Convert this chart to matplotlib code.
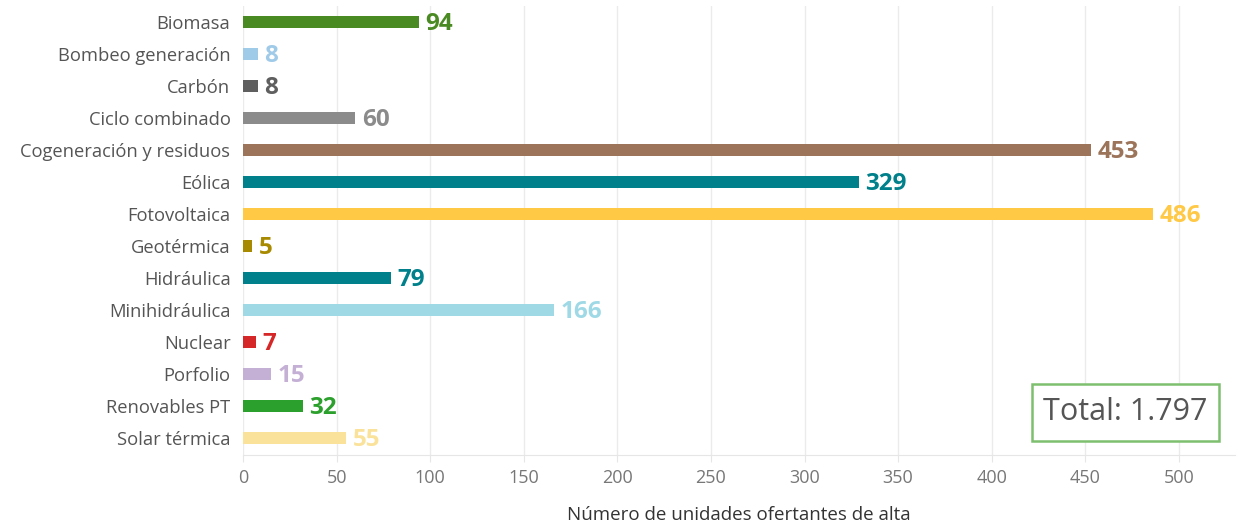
import matplotlib
matplotlib.use("Agg")
import matplotlib.pyplot as plt
from matplotlib.patches import Rectangle

categories = ["Biomasa", "Bombeo generación", "Carbón", "Ciclo combinado",
              "Cogeneración y residuos", "Eólica", "Fotovoltaica", "Geotérmica",
              "Hidráulica", "Minihidráulica", "Nuclear", "Porfolio",
              "Renovables PT", "Solar térmica"]
values = [94, 8, 8, 60, 453, 329, 486, 5, 79, 166, 7, 15, 32, 55]
colors = ["#4a8a22", "#a0cbe8", "#5f5f5f", "#8b8b8b", "#9c7459", "#00808a",
          "#ffc845", "#a88a00", "#00808a", "#9fd9e6", "#d62728", "#c5b0d5",
          "#2ca02c", "#fbe29b"]
xticks = [0, 50, 100, 150, 200, 250, 300, 350, 400, 450, 500]
xlabel = "Número de unidades ofertantes de alta"
total_text = "Total: 1.797"

plt.rcParams['font.family'] = ['Open Sans', 'DejaVu Sans']

fig = plt.figure(figsize=(12.43, 5.30), dpi=100)
ax = fig.add_axes([243/1243, 1-455/530, (1235-243)/1243, (455-6)/530])

ypos = list(range(len(categories)))
ax.barh(ypos, values, height=0.38, color=colors, zorder=3)
for y, v, c in zip(ypos, values, colors):
    ax.text(v + 3.5, y + 0.05, str(v), va='center', ha='left', fontsize=17.5,
            fontweight='bold', color=c, zorder=4)

ax.set_xlim(0, 530)
ax.set_ylim(13.53, -0.5)
ax.set_yticks(ypos)
ax.set_yticklabels(categories, fontsize=13.2, color='#555555')
ax.set_xticks(xticks)
ax.set_xticklabels([str(t) for t in xticks], fontsize=13, color='#777777')
ax.tick_params(axis='y', length=0, pad=9)
ax.tick_params(axis='x', length=5, color='#e6e6e6', pad=5)
ax.grid(axis='x', color='#ebebeb', linewidth=1, zorder=0)
for s in ['top', 'right', 'left']:
    ax.spines[s].set_visible(False)
ax.spines['bottom'].set_color('#e6e6e6')
ax.set_xlabel(xlabel, fontsize=13.5, color='#333333', labelpad=14)

# Total box
fig.patches.append(Rectangle((1032/1243, 1-441/530), (1219-1032)/1243, (441-384)/530,
                             transform=fig.transFigure, fill=True, facecolor='white',
                             edgecolor='#7dbf6e', linewidth=1.8, zorder=5))
fig.text((1032+1219)/2/1243, 1-412.5/530, total_text, ha='center', va='center',
         fontsize=22, color='#555555', zorder=6)

fig.savefig("out.png", dpi=100)
